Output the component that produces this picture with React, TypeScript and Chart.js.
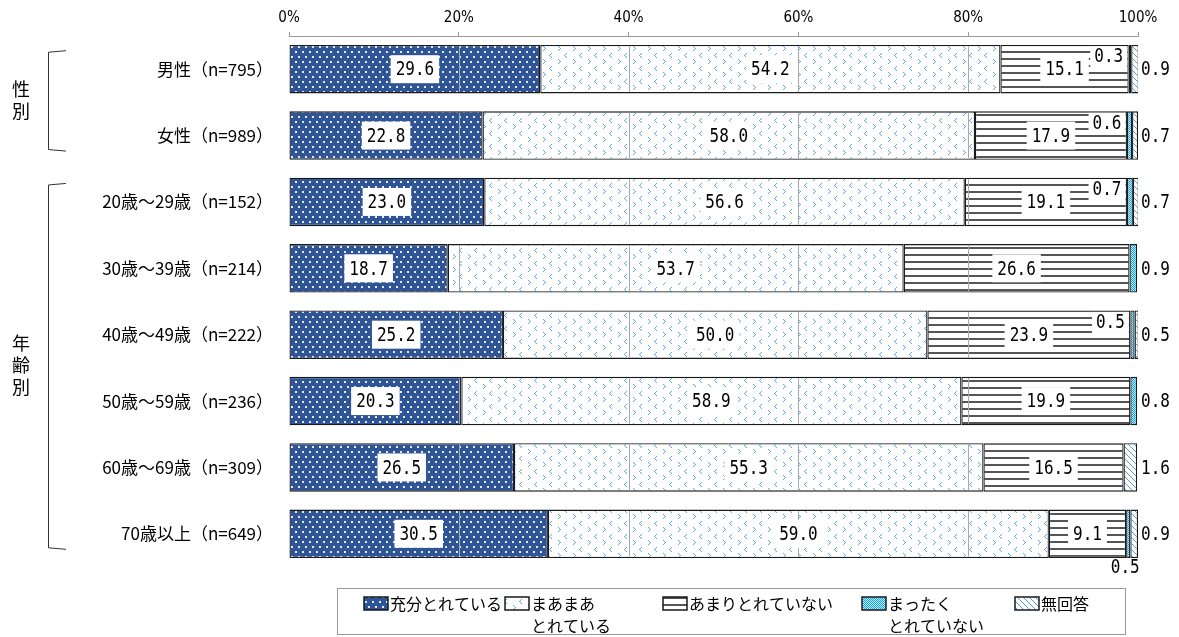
import React, { useEffect, useRef } from 'react';
import { Chart, registerables } from 'chart.js';

Chart.register(...registerables);

// ---------- data ----------
const categories = [
  '男性（n=795）',
  '女性（n=989）',
  '20歳～29歳（n=152）',
  '30歳～39歳（n=214）',
  '40歳～49歳（n=222）',
  '50歳～59歳（n=236）',
  '60歳～69歳（n=309）',
  '70歳以上（n=649）',
];
const seriesNames = ['充分とれている', 'まあまあとれている', 'あまりとれていない', 'まったくとれていない', '無回答'];
const legendLines = [['充分とれている'], ['まあまあ', 'とれている'], ['あまりとれていない'], ['まったく', 'とれていない'], ['無回答']];
const enough = [29.6, 22.8, 23.0, 18.7, 25.2, 20.3, 26.5, 30.5];
const fairly = [54.2, 58.0, 56.6, 53.7, 50.0, 58.9, 55.3, 59.0];
const notMuch = [15.1, 17.9, 19.1, 26.6, 23.9, 19.9, 16.5, 9.1];
const notAtAll = [0.3, 0.6, 0.7, 0.9, 0.5, 0.8, 0, 0.5];
const noAnswer = [0.9, 0.7, 0.7, 0, 0.5, 0, 1.6, 0.9];
const xTicks = [0, 20, 40, 60, 80, 100];
const groupNames = ['性別', '年齢別'];
const groupFrom = [0, 2];
const groupTo = [1, 7];
// where the small "まったく" label goes for each row (style)
const smallPlacement = ['top', 'top', 'top', 'right', 'top', 'right', 'none', 'below'];

// ---------- style ----------
const NUM_FONT = '"DejaVu Sans Mono", "Liberation Mono", monospace';
const JP_FONT = '"Noto Sans CJK JP", "Noto Sans", sans-serif';
const legendBox = { x: 337, y: 588, w: 788, h: 46 };
const legendItemX = [364, 505, 663, 862, 1015];

function makePattern(kind: number): CanvasPattern | string {
  const c = document.createElement('canvas');
  const g = c.getContext('2d')!;
  if (kind === 0) {
    c.width = 7; c.height = 10;
    g.fillStyle = '#2f5597'; g.fillRect(0, 0, 7, 10);
    g.fillStyle = '#e4ebf6';
    g.fillRect(1, 1, 2, 2);
    g.fillRect(4, 6, 2, 2);
  } else if (kind === 1) {
    c.width = 15; c.height = 13;
    g.fillStyle = '#ffffff'; g.fillRect(0, 0, 15, 13);
    g.fillStyle = '#62a4e6';
    // "<"
    g.fillRect(11, 1, 1, 1); g.fillRect(10, 2, 1, 1); g.fillRect(9, 3, 1, 1); g.fillRect(10, 4, 1, 1); g.fillRect(11, 5, 1, 1);
    // ">"
    g.fillRect(3, 7, 1, 1); g.fillRect(4, 8, 1, 1); g.fillRect(5, 9, 1, 1); g.fillRect(4, 10, 1, 1); g.fillRect(3, 11, 1, 1);
  } else if (kind === 2) {
    c.width = 4; c.height = 7;
    g.fillStyle = '#ffffff'; g.fillRect(0, 0, 4, 7);
    g.fillStyle = '#555555'; g.fillRect(0, 2, 4, 2);
  } else if (kind === 3) {
    c.width = 2; c.height = 2;
    g.fillStyle = '#bfe9fb'; g.fillRect(0, 0, 2, 2);
    g.fillStyle = '#12a5e6'; g.fillRect(0, 0, 1, 1); g.fillRect(1, 1, 1, 1);
  } else {
    c.width = 6; c.height = 6;
    g.fillStyle = '#ffffff'; g.fillRect(0, 0, 6, 6);
    g.fillStyle = '#5b9bd5';
    for (let i = 0; i < 6; i++) g.fillRect(i, i, 1, 1);
  }
  return g.createPattern(c, 'repeat') || '#ccc';
}

function numWidth(ctx: CanvasRenderingContext2D, t: string) {
  return ctx.measureText(t).width * 0.8;
}
function drawNum(ctx: CanvasRenderingContext2D, t: string, x: number, y: number, align: CanvasTextAlign) {
  ctx.save();
  ctx.translate(x, y);
  ctx.scale(0.8, 1);
  ctx.textAlign = align;
  ctx.textBaseline = 'middle';
  ctx.fillStyle = '#000';
  ctx.fillText(t, 0, 0);
  ctx.restore();
}

export default function App() {
  const ref = useRef<HTMLCanvasElement>(null);
  useEffect(() => {
    if (!ref.current) return;
    const patterns = [0, 1, 2, 3, 4].map(makePattern);
    const series = [enough, fairly, notMuch, notAtAll, noAnswer];

    const overlay = {
      id: 'overlay',
      afterDatasetsDraw(chart: any) {
        const ctx: CanvasRenderingContext2D = chart.ctx;
        const xs = chart.scales.x;
        const metas = series.map((_, i) => chart.getDatasetMeta(i));
        ctx.save();
        // grid lines inside bars
        ctx.strokeStyle = '#a9a9a9';
        ctx.lineWidth = 1;
        categories.forEach((_, i) => {
          const el: any = metas[0].data[i];
          const top = el.y - el.height / 2;
          const bottom = el.y + el.height / 2;
          xTicks.slice(1, -1).forEach((v) => {
            const x = Math.round(xs.getPixelForValue(v)) + 0.5;
            ctx.beginPath();
            ctx.moveTo(x, top + 1.5);
            ctx.lineTo(x, bottom - 1.5);
            ctx.stroke();
          });
        });
        ctx.font = `20px ${NUM_FONT}`;
        // main labels with white boxes
        for (let d = 0; d < 3; d++) {
          series[d].forEach((v, i) => {
            if (!v) return;
            const el: any = metas[d].data[i];
            const cx = (el.x + el.base) / 2;
            const t = v.toFixed(1);
            const w = numWidth(ctx, t) + 10;
            ctx.fillStyle = '#fff';
            ctx.fillRect(cx - w / 2, el.y - 14, w, 28);
            drawNum(ctx, t, cx, el.y + 1, 'center');
          });
        }
        // small labels
        notAtAll.forEach((v, i) => {
          const el: any = metas[3].data[i];
          const place = smallPlacement[i];
          if (!v || place === 'none') return;
          const t = v.toFixed(1);
          const top = el.y - el.height / 2;
          const bottom = el.y + el.height / 2;
          if (place === 'top') {
            const w = numWidth(ctx, t) + 8;
            const right = Math.min(el.x, el.base) - 1.5;
            ctx.fillStyle = '#fff';
            ctx.fillRect(right - w, top + 1.5, w, 21);
            drawNum(ctx, t, right - w / 2, top + 12, 'center');
          } else if (place === 'right') {
            drawNum(ctx, t, xs.right + 3, el.y + 1, 'left');
          } else {
            drawNum(ctx, t, (el.x + el.base) / 2 - 3, bottom + 10, 'center');
          }
        });
        noAnswer.forEach((v, i) => {
          if (!v) return;
          const el: any = metas[4].data[i];
          drawNum(ctx, v.toFixed(1), xs.right + 3, el.y + 1, 'left');
        });
        ctx.restore();
      },
      afterDraw(chart: any) {
        const ctx: CanvasRenderingContext2D = chart.ctx;
        const ys = chart.scales.y;
        ctx.save();
        // group labels + brackets
        ctx.strokeStyle = '#333';
        ctx.lineWidth = 1;
        groupNames.forEach((name, gi) => {
          const yTop = ys.getPixelForValue(groupFrom[gi]) - 17;
          const yBot = ys.getPixelForValue(groupTo[gi]) + 14;
          ctx.beginPath();
          ctx.moveTo(66, yTop - 1.5);
          ctx.lineTo(48.5, yTop);
          ctx.lineTo(48.5, yBot);
          ctx.lineTo(66, yBot + 1.5);
          ctx.stroke();
          const chars = Array.from(name);
          const mid = (yTop + yBot) / 2 - 1;
          const lh = 22;
          ctx.font = `18px ${JP_FONT}`;
          ctx.fillStyle = '#000';
          ctx.textAlign = 'center';
          ctx.textBaseline = 'middle';
          chars.forEach((ch, k) => {
            ctx.fillText(ch, 21, mid + (k - (chars.length - 1) / 2) * lh);
          });
        });
        // legend
        ctx.strokeStyle = '#9a9a9a';
        ctx.lineWidth = 1;
        ctx.strokeRect(legendBox.x + 0.5, legendBox.y + 0.5, legendBox.w, legendBox.h);
        ctx.font = `16px ${JP_FONT}`;
        ctx.textAlign = 'left';
        ctx.textBaseline = 'middle';
        legendLines.forEach((lines, k) => {
          const x = legendItemX[k];
          ctx.fillStyle = patterns[k] as any;
          ctx.fillRect(x, 597, 24, 13);
          ctx.strokeStyle = '#1a1a1a';
          ctx.lineWidth = 1.5;
          ctx.strokeRect(x, 597, 24, 13);
          ctx.fillStyle = '#000';
          lines.forEach((ln, j) => ctx.fillText(ln, x + 26, 604 + j * 22));
        });
        ctx.restore();
      },
    };

    const chart = new Chart(ref.current, {
      type: 'bar',
      data: {
        labels: categories,
        datasets: series.map((data, k) => ({
          label: seriesNames[k],
          data,
          backgroundColor: patterns[k] as any,
          borderColor: '#1a1a1a',
          borderWidth: 1.3,
          borderSkipped: false,
          barPercentage: 0.73,
          categoryPercentage: 1,
        })),
      },
      options: {
        indexAxis: 'y',
        responsive: false,
        animation: false,
        events: [],
        layout: { padding: { left: 0, right: 41, top: 0, bottom: 70 } },
        plugins: { legend: { display: false }, tooltip: { enabled: false } },
        scales: {
          x: {
            position: 'top',
            stacked: true,
            min: 0,
            max: 100,
            afterBuildTicks: (s: any) => {
              s.ticks = xTicks.map((v) => ({ value: v }));
            },
            ticks: {
              callback: (v: any) => v + '%',
              font: { family: '"DejaVu Sans Condensed", "DejaVu Sans", sans-serif', size: 15 },
              color: '#000',
              padding: 5,
              maxRotation: 0,
              autoSkip: false,
            },
            grid: { drawOnChartArea: false, drawTicks: true, tickLength: 4, color: '#999' },
            border: { color: '#999' },
            afterFit: (s: any) => {
              s.height = 36;
            },
          },
          y: {
            stacked: true,
            grid: { display: false },
            border: { display: false },
            ticks: { font: { family: JP_FONT, size: 17 }, color: '#000', padding: 8, autoSkip: false },
            afterFit: (s: any) => {
              s.width = 289;
            },
          },
        },
      },
      plugins: [overlay],
    } as any);
    return () => chart.destroy();
  }, []);
  return (
    <div style={{ position: 'absolute', left: 0, top: 0, width: 1179, height: 637, background: '#fff' }}>
      <canvas ref={ref} width={1179} height={637} style={{ display: 'block' }} />
    </div>
  );
}
